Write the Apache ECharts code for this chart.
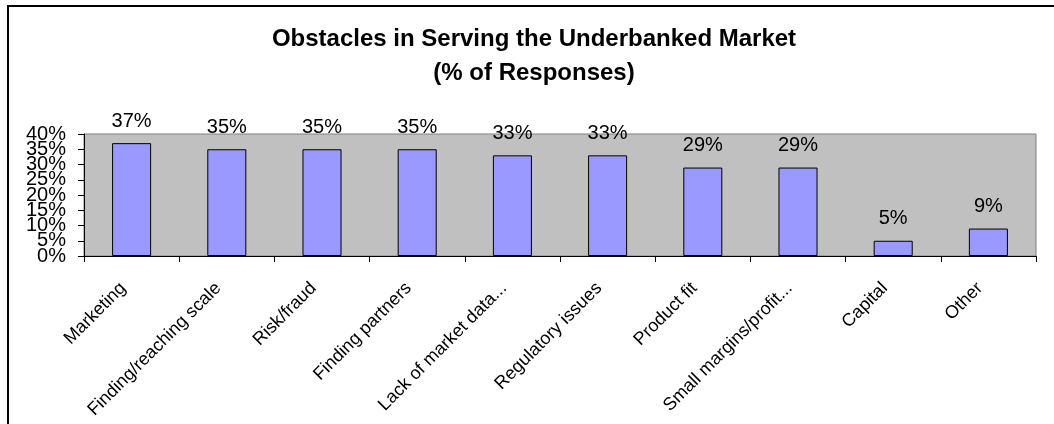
<!DOCTYPE html>
<html>
<head>
<meta charset="utf-8">
<script src="https://cdn.jsdelivr.net/npm/echarts@6/dist/echarts.min.js"></script>
<style>
html,body{margin:0;padding:0;background:#fff;}
#chart{width:1054px;height:424px;}
</style>
</head>
<body>
<div id="chart"></div>
<script>
var titleText = 'Obstacles in Serving the Underbanked Market\n(% of Responses)';
var categories = ['Marketing', 'Finding/reaching scale', 'Risk/fraud', 'Finding partners', 'Lack of market data...', 'Regulatory issues', 'Product fit', 'Small margins/profit...', 'Capital', 'Other'];
var values = [37, 35, 35, 35, 33, 33, 29, 29, 5, 9];
var yMin = 0, yMax = 40, yStep = 5;

var FONT = '"Liberation Sans", Arial, sans-serif';

// Two overlaid copies of the same value axis: one labels the even steps, the
// other the odd steps, so that the cramped labels are all drawn (as in the source).
function yAxisFor(parity, showLine) {
  return {
    type: 'value',
    position: 'left',
    min: yMin, max: yMax, interval: yStep,
    axisLine: {show: showLine, lineStyle: {color: '#000', width: 1}},
    axisTick: {show: showLine, length: 6, lineStyle: {color: '#000'}},
    axisLabel: {
      formatter: function (v) { return (Math.round(v / yStep) % 2 === parity) ? v + '%' : ''; },
      margin: 18, fontFamily: FONT, fontSize: 20, color: '#000',
      showMinLabel: true, showMaxLabel: true, hideOverlap: false
    },
    splitLine: {show: false}
  };
}

var chart = echarts.init(document.getElementById('chart'), null, {renderer: 'canvas'});
chart.setOption({
  animation: false,
  backgroundColor: '#ffffff',
  title: {
    text: titleText,
    left: 534,
    top: 22,
    padding: 0,
    textAlign: 'center',
    textStyle: {fontFamily: FONT, fontSize: 24, fontWeight: 'bold', color: '#000', lineHeight: 34}
  },
  graphic: [
    {type: 'line', shape: {x1: 8, y1: 6, x2: 8, y2: 424}, style: {stroke: '#000', lineWidth: 2}},
    {type: 'line', shape: {x1: 7, y1: 6, x2: 1054, y2: 6}, style: {stroke: '#000', lineWidth: 2}}
  ],
  grid: {
    left: 84, right: 18, top: 134, bottom: 168,
    show: true, backgroundColor: '#C0C0C0', borderColor: '#808080', borderWidth: 1,
    containLabel: false
  },
  xAxis: {
    type: 'category',
    data: categories,
    axisLine: {show: true, lineStyle: {color: '#000', width: 1}},
    axisTick: {show: true, alignWithLabel: false, length: 6, lineStyle: {color: '#000'}},
    axisLabel: {interval: 0, rotate: 45, margin: 21, padding: [0, 12, 0, 0], fontFamily: FONT, fontSize: 18, color: '#000', hideOverlap: false},
    splitLine: {show: false}
  },
  yAxis: [yAxisFor(0, true), yAxisFor(1, false)],
  series: [{
    type: 'bar',
    yAxisIndex: 0,
    data: values,
    barWidth: '41%',
    itemStyle: {color: '#9999FF', borderColor: '#000', borderWidth: 1},
    label: {show: true, position: 'top', distance: 12, formatter: '{c}%', fontFamily: FONT, fontSize: 20, color: '#000'}
  }]
});
</script>
</body>
</html>
